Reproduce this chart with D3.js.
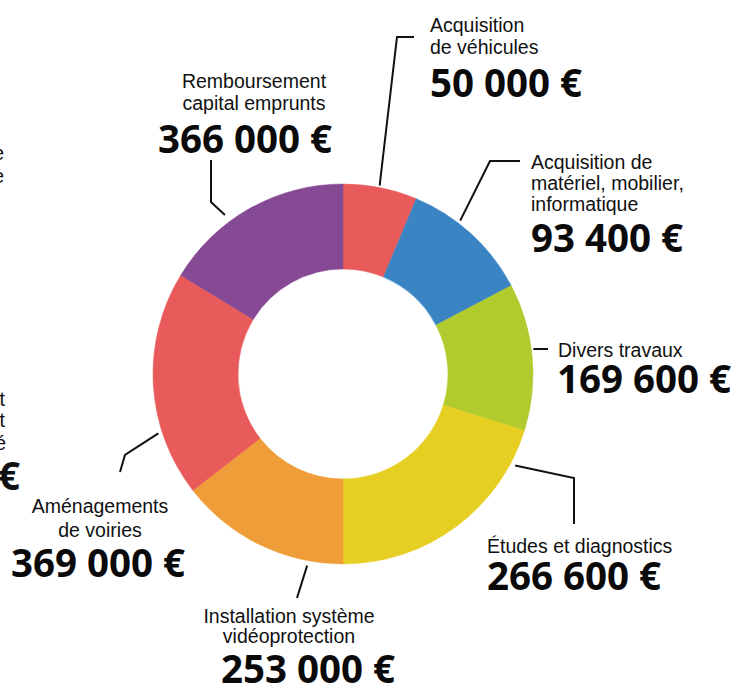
<!DOCTYPE html>
<html>
<head>
<meta charset="utf-8">
<script src="https://cdn.jsdelivr.net/npm/d3@7"></script>
<style>
  html, body { margin: 0; padding: 0; background: #fff; }
  svg { display: block; }
</style>
</head>
<body>
<div id="chart"></div>
<script>
// ---------------- DATA ----------------
const categories = [
  "Acquisition de véhicules",
  "Acquisition de matériel, mobilier, informatique",
  "Divers travaux",
  "Études et diagnostics",
  "Installation système vidéoprotection",
  "Aménagements de voiries",
  "Remboursement capital emprunts"
];
const amounts = [50000, 93400, 169600, 266600, 253000, 369000, 366000];
// share of the ring each slice takes in the picture (%)
const sliceShares = [6.3, 11.0, 12.5, 20.2, 14.5, 19.2, 16.3];
const labelLines = [
  ["Acquisition", "de véhicules"],
  ["Acquisition de", "matériel, mobilier,", "informatique"],
  ["Divers travaux"],
  ["Études et diagnostics"],
  ["Installation système", "vidéoprotection"],
  ["Aménagements", "de voiries"],
  ["Remboursement", "capital emprunts"]
];
const colors = ["#E95B5A", "#3B84C4", "#B1CB2F", "#E7CE23", "#EF9D38", "#E95B5A", "#864994"];
// fragments of neighbouring labels cut by the left edge
const edgeFragments = ["e", "e", "t", "t", "é", "€"];

// ---------------- LAYOUT ----------------
const W = 735, H = 686;
const cx = 343, cy = 374, R = 190, r0 = 105;
const regFont = "'Liberation Sans', Arial, Helvetica, sans-serif";
const boldFont = "'Open Sans', 'Noto Sans', sans-serif";
const regSize = 19.5, boldSize = 38.5;

const layout = [
  { anchor: "start", x: 430, ys: [32, 54], ax: 430, ay: 97,
    lead: { a: 11, r: 192, pts: [[397, 37], [414, 37]] } },
  { anchor: "start", x: 531, ys: [169, 190, 211], ax: 531, ay: 252,
    lead: { a: 37.4, r: 193, pts: [[490, 161], [520, 161]] } },
  { anchor: "start", x: 558, ys: [357], ax: 557, ay: 393,
    lead: { a: 82.5, r: 192, pts: [[548, 349]] } },
  { anchor: "start", x: 487, ys: [553], ax: 487, ay: 590,
    lead: { a: 118, r: 195, pts: [[574, 478], [574, 524]] } },
  { anchor: "middle", x: 289, ys: [623, 643], ax: 308, ay: 683,
    lead: { a: 190.6, r: 195, pts: [[297, 598]] } },
  { anchor: "middle", x: 100, ys: [513, 537], ax: 98, ay: 577,
    lead: { a: 252.2, r: 194, pts: [[125, 455], [120, 472]] } },
  { anchor: "middle", x: 254, ys: [88, 110], ax: 245, ay: 153,
    lead: { a: 323.4, r: 198, pts: [[211, 202], [211, 160]] } }
];
const fragLayout = [
  { x: 4, y: 160, bold: false }, { x: 4, y: 183, bold: false },
  { x: 5, y: 406, bold: false }, { x: 5, y: 427, bold: false },
  { x: 6, y: 450, bold: false }, { x: 20, y: 490, bold: true }
];

const fr = d3.formatLocale({ decimal: ",", thousands: " ", grouping: [3], currency: ["", " €"] });
const fmt = fr.format("$,");

const svg = d3.select("#chart").append("svg").attr("width", W).attr("height", H);

// ---------------- DONUT ----------------
const pie = d3.pie().sort(null).value(d => d.share);
const data = categories.map((c, i) => ({ cat: c, amount: amounts[i], share: sliceShares[i], i }));
const arcs = pie(data);
const arc = d3.arc().innerRadius(r0).outerRadius(R);

const g = svg.append("g").attr("transform", `translate(${cx},${cy})`);
g.selectAll("path.slice").data(arcs).join("path")
  .attr("class", "slice")
  .attr("d", arc)
  .attr("fill", d => colors[d.data.i])
  .attr("stroke", d => colors[d.data.i])
  .attr("stroke-width", 0.5);

// ---------------- LEADERS ----------------
const polar = (aDeg, rad) => {
  const a = aDeg * Math.PI / 180;
  return [cx + rad * Math.sin(a), cy - rad * Math.cos(a)];
};
const line = d3.line();
svg.selectAll("path.leader").data(layout).join("path")
  .attr("class", "leader")
  .attr("d", d => line([polar(d.lead.a, d.lead.r), ...d.lead.pts]))
  .attr("fill", "none")
  .attr("stroke", "#111")
  .attr("stroke-width", 2);

// ---------------- LABELS ----------------
layout.forEach((L, i) => {
  labelLines[i].forEach((t, k) => {
    svg.append("text")
      .attr("x", L.x).attr("y", L.ys[k])
      .attr("text-anchor", L.anchor)
      .attr("font-family", regFont)
      .attr("font-size", regSize)
      .attr("fill", "#111")
      .text(t);
  });
  svg.append("text")
    .attr("x", L.ax).attr("y", L.ay)
    .attr("text-anchor", L.anchor)
    .attr("font-family", boldFont)
    .attr("font-weight", 700)
    .attr("font-size", boldSize)
    .attr("fill", "#0a0a0a")
    .text(fmt(amounts[i]));
});

edgeFragments.forEach((t, i) => {
  const f = fragLayout[i];
  svg.append("text")
    .attr("x", f.x).attr("y", f.y)
    .attr("text-anchor", "end")
    .attr("font-family", f.bold ? boldFont : regFont)
    .attr("font-weight", f.bold ? 700 : 400)
    .attr("font-size", f.bold ? boldSize : regSize)
    .attr("fill", "#111")
    .text(t);
});
</script>
</body>
</html>
